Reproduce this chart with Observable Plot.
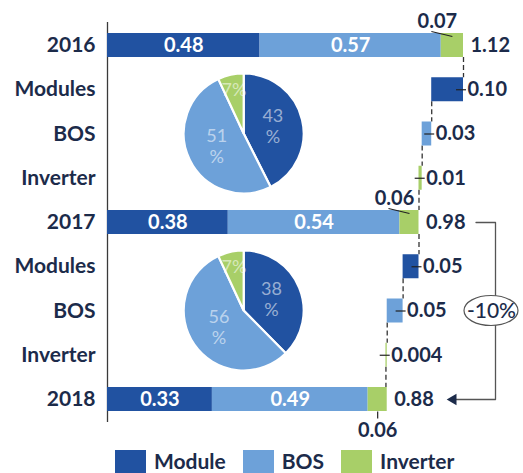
<!DOCTYPE html>
<html><head><meta charset="utf-8">
<script src="https://cdn.jsdelivr.net/npm/d3@7"></script>
<script src="https://cdn.jsdelivr.net/npm/@observablehq/plot@0.6"></script>
<style>
body{margin:0;background:#fff;font-family:Lato,sans-serif;overflow:hidden;}
#legend{display:flex;align-items:flex-start;padding-left:115px;margin-top:4px;color:#1c2b4a;font-weight:700;font-size:21px;line-height:20px;}
.sw{width:31px;height:28px;margin-right:8px;flex:none}
.lab{margin-right:17px;padding-top:1px}
</style></head><body><div id="chart"></div><div id="legend"></div>
<script>
// ---- data ----
const years = ["2016", "2017", "2018"];
const moduleCost = [0.48, 0.38, 0.33];
const bosCost = [0.57, 0.54, 0.49];
const inverterCost = [0.07, 0.06, 0.06];
const totals = [1.12, 0.98, 0.88];
const components = ["Modules", "BOS", "Inverter"];
const change2016to2017 = [0.10, 0.03, 0.01];
const change2017to2018 = [0.05, 0.05, 0.004];
const pieShare2016 = [43, 51, 7];
const pieShare2017 = [38, 56, 7];
const legendLabels = ["Module", "BOS", "Inverter"];
const overallChange = "-10%";

// ---- style ----
const colors = ["#2152a1", "#6da1d9", "#a8cf68"];
const ink = "#1c2b4a";
const W = 523, H = 446;
const X0 = 107, X1 = 463;      // pixel range of x
const Y0 = 45, Y1 = 399;       // pixel centres of first/last row
const xMax = d3.max(totals);
const pxX = (X1 - X0) / xMax;
const nRows = years.length + (years.length - 1) * components.length;
const pxY = (Y1 - Y0) / (nRows - 1);
const h = 12 / pxY;            // half bar height in row units
const fmt = v => v >= 0.01 ? v.toFixed(2) : v.toFixed(3);

// ---- rows ----
const changes = [change2016to2017, change2017to2018];
const rows = [];
years.forEach((yr, k) => {
  rows.push({kind: "year", label: yr, k});
  if (k < years.length - 1) components.forEach((c, j) => rows.push({kind: "change", label: c, k, j}));
});
rows.forEach((r, i) => r.i = i);

const segs = [];
rows.filter(r => r.kind === "year").forEach(r => {
  let x0 = 0;
  [moduleCost[r.k], bosCost[r.k], inverterCost[r.k]].forEach((v, s) => {
    segs.push({i: r.i, k: r.k, x1: x0, x2: x0 + v, v, s, cat: legendLabels[s]});
    x0 += v;
  });
});

let level;
const steps = [];
rows.forEach(r => {
  if (r.kind === "year") { level = totals[r.k]; r.exit = level; }
  else {
    const v = changes[r.k][r.j];
    steps.push({i: r.i, x1: level - v, x2: level, v, cat: legendLabels[r.j]});
    level -= v; r.exit = level;
  }
});
const conns = rows.slice(0, -1).map(r => ({x: r.exit, y1: r.i + h, y2: r.i + 1 - h}));
const yearRows = rows.filter(r => r.kind === "year");
const invSegs = segs.filter(s => s.s === 2);
const lastK = years.length - 1;

const invAbove = invSegs.filter(s => s.k < lastK);
const invBelow = invSegs.filter(s => s.k === lastK);
const mid = s => (s.x1 + s.x2) / 2;

// bracket annotation
const iA = yearRows[yearRows.length - 2].i, iB = yearRows[yearRows.length - 1].i;
const xb = xMax + 32 / pxX;
const bracket = [
  {x: totals[lastK - 1] + 57 / pxX, y: iA},
  {x: xb, y: iA},
  {x: xb, y: iB},
  {x: totals[lastK] + 62 / pxX, y: iB}
];
const arrowTip = {x: totals[lastK] + 62 / pxX, y: iB};
const noteRow = (iA + iB) / 2;

function pieMark(shares, rowIndex, cxVal) {
  return (index, scales) => {
    const cx = scales.x(cxVal), cy = scales.y(rowIndex);
    const R = 60;
    const g = d3.create("svg:g").attr("transform", `translate(${cx},${cy})`);
    const arcs = d3.pie().sort(null)(shares);
    const arc = d3.arc().innerRadius(0).outerRadius(R);
    g.selectAll("path").data(arcs).join("path")
      .attr("d", arc).attr("fill", (d, i) => colors[i])
      .attr("stroke", "#fff").attr("stroke-width", 2.2);
    arcs.forEach((a, i) => {
      const ang = (a.startAngle + a.endAngle) / 2;
      const small = (a.endAngle - a.startAngle) < 0.1 * 2 * Math.PI;
      const r = small ? 45 : 30;
      const x = r * Math.sin(ang), y = -r * Math.cos(ang);
      const lines = small ? [shares[i] + "%"] : [String(shares[i]), "%"];
      const t = g.append("text").attr("text-anchor", "middle")
        .attr("fill", "#fff").attr("fill-opacity", 0.55)
        .attr("font-family", "Lato, sans-serif").attr("font-size", 18);
      lines.forEach((ln, li) => {
        t.append("tspan").attr("x", x)
          .attr("y", y + (li - (lines.length - 1) / 2) * 21)
          .attr("dy", "0.35em").text(ln);
      });
    });
    return g.node();
  };
}

function ellipseMark(xVal, yVal) {
  return (index, scales) => {
    return d3.create("svg:ellipse")
      .attr("cx", scales.x(xVal)).attr("cy", scales.y(yVal))
      .attr("rx", 27).attr("ry", 15)
      .attr("fill", "#fff").attr("stroke", "#555").attr("stroke-width", 1.2).node();
  };
}

const bold = {fontSize: 20, fontWeight: 700, fill: ink};
const pieX = 0.43;

const chart = Plot.plot({
  width: W, height: H,
  marginTop: 22, marginBottom: H - 422, marginLeft: X0, marginRight: 40,
  style: {fontFamily: "Lato, sans-serif", color: ink, background: "#fff"},
  x: {domain: [0, xMax], range: [X0, X1], axis: null},
  y: {domain: [0, nRows - 1], range: [Y0, Y1], axis: null},
  color: {domain: legendLabels, range: colors},
  marks: [
    Plot.ruleX([0], {stroke: "#3a3a3a", strokeWidth: 1.3}),
    Plot.ruleX(conns, {x: "x", y1: "y1", y2: "y2", stroke: "#333", strokeWidth: 1.3, strokeDasharray: "5,3"}),
    Plot.rect(segs, {x1: "x1", x2: "x2", y1: d => d.i - h, y2: d => d.i + h, fill: "cat"}),
    Plot.rect(steps, {x1: "x1", x2: "x2", y1: d => d.i - h, y2: d => d.i + h, fill: "cat"}),
    Plot.text(segs.filter(s => s.s < 2), {x: mid, y: "i", text: d => fmt(d.v), ...bold, fill: "#fff"}),
    // inverter labels
    Plot.link(invAbove, {x1: d => mid(d) - 21 / pxX, y1: d => d.i - h - 2 / pxY, x2: d => mid(d), y2: d => d.i - h + 3 / pxY, stroke: "#222", strokeWidth: 1.2}),
    Plot.text(invAbove, {x: d => mid(d) - 15 / pxX, y: d => d.i - h, dy: -12, text: d => fmt(d.v), ...bold}),
    Plot.link(invBelow, {x1: mid, y1: d => d.i + h, x2: mid, y2: d => d.i + h + 7 / pxY, stroke: "#222", strokeWidth: 1.2}),
    Plot.text(invBelow, {x: mid, y: d => d.i + h, dy: 19, text: d => fmt(d.v), ...bold}),
    // totals
    Plot.text(yearRows, {x: d => totals[d.k], y: "i", dx: 7, textAnchor: "start", text: d => fmt(totals[d.k]), ...bold}),
    // step labels
    Plot.ruleY(steps, {y: "i", x1: d => d.x2 - 7 / pxX, x2: d => d.x2 + 3 / pxX, stroke: "#222", strokeWidth: 1.2}),
    Plot.text(steps, {x: "x2", y: "i", dx: 4, textAnchor: "start", text: d => fmt(d.v), ...bold}),
    // pies
    pieMark(pieShare2016, rows.find(r => r.kind === "change" && r.k === 0 && r.j === 1).i, pieX),
    pieMark(pieShare2017, rows.find(r => r.kind === "change" && r.k === 1 && r.j === 1).i, pieX),
    // bracket annotation
    Plot.line(bracket, {x: "x", y: "y", stroke: "#555", strokeWidth: 1.3}),
    Plot.dot([arrowTip], {x: "x", y: "y", dx: 4, symbol: "triangle", rotate: -90, r: 4.2, fill: ink, stroke: null}),
    ellipseMark(xb - 4 / pxX, noteRow),
    Plot.text([overallChange], {x: xb - 4 / pxX, y: noteRow, text: d => d, fontSize: 21, fontWeight: 500, fill: ink}),
    // y axis
    Plot.axisY(rows.map(r => r.i), {tickFormat: i => rows[i].label, tickSize: 0, tickPadding: 12, fontSize: 21, fontWeight: 700, fill: ink, label: null})
  ]
});
document.getElementById("chart").appendChild(chart);

const lg = d3.select("#legend");
legendLabels.forEach((l, i) => {
  lg.append("div").attr("class", "sw").style("background", colors[i]);
  lg.append("div").attr("class", "lab").text(l);
});
</script>
</body></html>
